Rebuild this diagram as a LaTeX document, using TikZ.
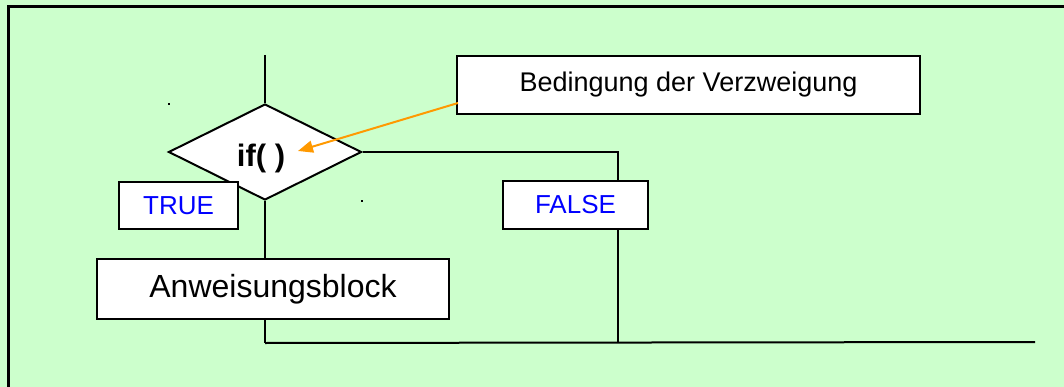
\documentclass[tikz,border=0pt]{standalone}
\usepackage{fontspec}
\setmainfont{Liberation Sans}
\usetikzlibrary{shapes.geometric,arrows.meta}
\definecolor{bggreen}{HTML}{CCFFCC}
\definecolor{arroworange}{HTML}{FF9900}
\definecolor{labelblue}{HTML}{0000FF}
\tikzset{
  conn/.style={line width=2pt,draw=black},
  box/.style={draw=black,fill=white,line width=2.5pt,inner sep=0pt},
  tfbox/.style={box,text=labelblue,font=\fontsize{26}{30}\selectfont},
  decision/.style={diamond,draw=black,fill=white,line width=2pt,inner sep=0pt,
    minimum width=193pt,minimum height=96pt,font=\bfseries\fontsize{31}{36}\selectfont},
  hint/.style={line width=2pt,draw=arroworange,-{Triangle[length=15pt,width=12pt]}},
  speck/.style={fill=black,inner sep=0pt,minimum size=2pt,rectangle}
}
\begin{document}
\begin{tikzpicture}[x=1pt,y=-1pt]
\fill[bggreen] (0,0) rectangle (1064,387);
\useasboundingbox (0,0) rectangle (1064,387);
\draw[line width=3pt] (8.3,387) -- (8.3,7) -- (1064,7);

\coordinate (top) at (265,55);
\coordinate (endR) at (1035,342);

\node[decision] (cond) at (265,152) {\makebox[0pt]{\raisebox{-15pt}[0pt][0pt]{if( )}\kern8pt}};
\node[box,minimum width=352pt,minimum height=60pt,font=\fontsize{32}{38}\selectfont] (anw) at (273,289) {Anweisungsblock};
\node[box,minimum width=463pt,minimum height=58pt,font=\fontsize{27}{32}\selectfont] (bed) at (688.5,85) {Bedingung der Verzweigung};

\coordinate (fTop) at (618,181);
\coordinate (fBot) at (618,229);
\coordinate (aTop) at (265,259);
\coordinate (aBot) at (265,319);
\coordinate (join) at (265,343);

\draw[conn] (top) -- (cond.north);
\draw[conn] (cond.south) -- (aTop);
\draw[conn] (aBot) -- (join);
\draw[conn] (join) -- (endR);
\draw[conn] (cond.east) -| (fTop);
\draw[conn] (fBot) -- (618,342);

\node[tfbox,minimum width=119pt,minimum height=47pt] (true) at (178.5,205.5) {TRUE};
\node[tfbox,minimum width=145pt,minimum height=48pt] (false) at (575.5,205) {FALSE};

\coordinate (bedIn) at (458,103);
\coordinate (tip) at (298,151);
\draw[hint] (bedIn) -- (tip);

\node[speck] (d1) at (169,104) {};
\node[speck] (d2) at (362,201) {};
\end{tikzpicture}
\end{document}
